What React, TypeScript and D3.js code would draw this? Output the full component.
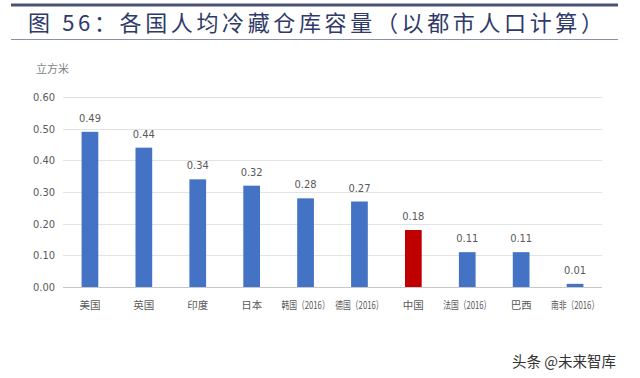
import React from "react";
import * as d3 from "d3";

const categories = ["美国", "英国", "印度", "日本", "韩国（2016）", "德国（2016）", "中国", "法国（2016）", "巴西", "南非（2016）"];
const values = [0.49, 0.44, 0.34, 0.32, 0.28, 0.27, 0.18, 0.11, 0.11, 0.01];
const highlight = ["中国"];
const yTicks = [0, 0.1, 0.2, 0.3, 0.4, 0.5, 0.6];
const title = "图 56：各国人均冷藏仓库容量（以都市人口计算）";
const unit = "立方米";
const watermark = "头条 @未来智库";

const W = 640, H = 378;
const left = 63, right = 602, top = 97, bottom = 287;

export default function App() {
  const x = d3.scaleBand<string>().domain(categories).range([left, right]).paddingInner(0.69).paddingOuter(0.345);
  const y = d3.scaleLinear().domain([0, 0.6]).range([bottom, top]);
  const fmt = d3.format(".2f");
  const cjk = "'Noto Sans CJK SC', sans-serif";
  const num = "'Liberation Sans Narrow', 'DejaVu Sans Condensed', 'Liberation Sans', sans-serif";
  return (
    <svg width={W} height={H} style={{ position: "absolute", left: 0, top: 0, background: "#fff" }}>
      <line x1={11} x2={618} y1={5} y2={5} stroke="#4a5275" strokeWidth={3} />
      <text x={28} y={31} fontFamily={cjk} fontSize={22} fill="#2f3a6a" textLength={575} lengthAdjust="spacing">{title}</text>
      <line x1={11} x2={618} y1={39.5} y2={39.5} stroke="#8a90ac" strokeWidth={1} />
      <text x={36} y={73} fontFamily={cjk} fontSize={11} fill="#7f7f7f">{unit}</text>
      {yTicks.map((t) => (
        <g key={t}>
          <line x1={left} x2={right} y1={Math.round(y(t)) + 0.5} y2={Math.round(y(t)) + 0.5} stroke={t === 0 ? "#c8c8c8" : "#e3e3e3"} strokeWidth={1} />
          <text x={55} y={y(t) + 4} textAnchor="end" fontFamily={num} fontSize={11} fill="#595959">{fmt(t)}</text>
        </g>
      ))}
      {categories.map((c, i) => {
        const bx = x(c)!;
        const v = values[i];
        const cx = bx + x.bandwidth() / 2;
        const sx = c.length > 3 ? 0.74 : 1;
        return (
          <g key={c}>
            <rect x={bx} y={y(v)} width={x.bandwidth()} height={bottom - y(v)} fill={highlight.includes(c) ? "#c00000" : "#4472c4"} />
            <text x={cx} y={y(v) - 10} textAnchor="middle" fontFamily={num} fontSize={11} fill="#595959">{fmt(v)}</text>
            <text transform={`translate(${cx},309) scale(${sx},1)`} textAnchor="middle" fontFamily={cjk} fontSize={10.5} fill="#595959">{c}</text>
          </g>
        );
      })}
      <text x={512} y={367} fontFamily={cjk} fontSize={14.5} fill="#333">{watermark}</text>
    </svg>
  );
}
